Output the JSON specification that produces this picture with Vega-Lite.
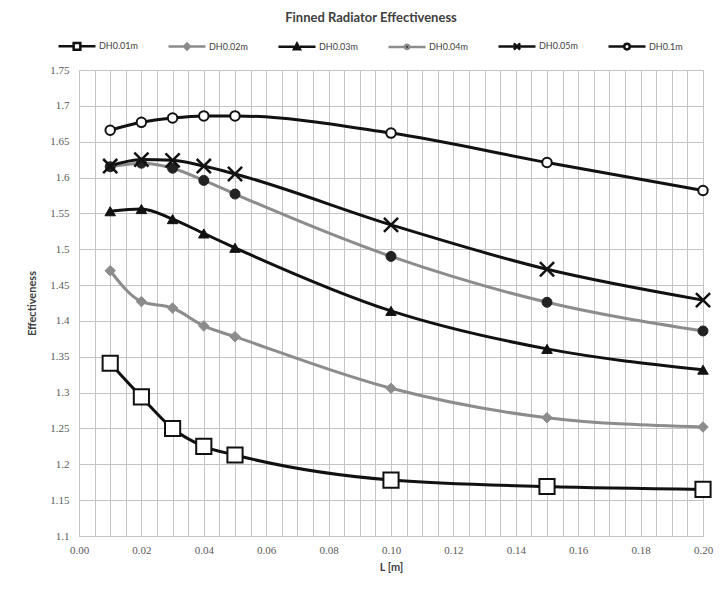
{
  "$schema": "https://vega.github.io/schema/vega-lite/v6.json",
  "autosize": "none",
  "width": 624,
  "height": 466,
  "padding": {"left": 79, "top": 70, "right": 19, "bottom": 54},
  "background": "white",
  "title": {"text": "Finned Radiator Effectiveness", "font": "Lato", "fontSize": 13, "fontWeight": "bold", "color": "#404040", "anchor": "middle", "dx": -20, "offset": 1},
  "config": {
    "view": {"stroke": "#c4c4c4", "strokeWidth": 1},
    "axis": {"labelFont": "Liberation Serif", "labelFontSize": 11, "labelColor": "#595959", "titleFont": "Lato", "titleFontWeight": "bold", "titleColor": "#404040", "titleFontSize": 11, "gridColor": "#c4c4c4", "gridOpacity": 1, "gridWidth": 1, "ticks": false, "domain": false},
    "legend": {"orient": "none", "legendX": -22, "legendY": -44, "direction": "horizontal", "columns": 6, "title": null, "symbolSize": 1369, "symbolStrokeWidth": 2.5, "symbolOpacity": 1, "labelFont": "Lato", "labelFontSize": 9, "labelColor": "#404040", "labelOffset": 2, "columnPadding": 25, "padding": 0}
  },
  "data": {"values": [
    {"series": "DH0.01m", "L": 0.01, "E": 1.341},
    {"series": "DH0.01m", "L": 0.02, "E": 1.294},
    {"series": "DH0.01m", "L": 0.03, "E": 1.250},
    {"series": "DH0.01m", "L": 0.04, "E": 1.225},
    {"series": "DH0.01m", "L": 0.05, "E": 1.213},
    {"series": "DH0.01m", "L": 0.10, "E": 1.178},
    {"series": "DH0.01m", "L": 0.15, "E": 1.169},
    {"series": "DH0.01m", "L": 0.20, "E": 1.165},
    {"series": "DH0.02m", "L": 0.01, "E": 1.470},
    {"series": "DH0.02m", "L": 0.02, "E": 1.427},
    {"series": "DH0.02m", "L": 0.03, "E": 1.418},
    {"series": "DH0.02m", "L": 0.04, "E": 1.393},
    {"series": "DH0.02m", "L": 0.05, "E": 1.378},
    {"series": "DH0.02m", "L": 0.10, "E": 1.306},
    {"series": "DH0.02m", "L": 0.15, "E": 1.265},
    {"series": "DH0.02m", "L": 0.20, "E": 1.252},
    {"series": "DH0.03m", "L": 0.01, "E": 1.553},
    {"series": "DH0.03m", "L": 0.02, "E": 1.556},
    {"series": "DH0.03m", "L": 0.03, "E": 1.542},
    {"series": "DH0.03m", "L": 0.04, "E": 1.522},
    {"series": "DH0.03m", "L": 0.05, "E": 1.502},
    {"series": "DH0.03m", "L": 0.10, "E": 1.414},
    {"series": "DH0.03m", "L": 0.15, "E": 1.361},
    {"series": "DH0.03m", "L": 0.20, "E": 1.332},
    {"series": "DH0.04m", "L": 0.01, "E": 1.615},
    {"series": "DH0.04m", "L": 0.02, "E": 1.620},
    {"series": "DH0.04m", "L": 0.03, "E": 1.613},
    {"series": "DH0.04m", "L": 0.04, "E": 1.596},
    {"series": "DH0.04m", "L": 0.05, "E": 1.577},
    {"series": "DH0.04m", "L": 0.10, "E": 1.490},
    {"series": "DH0.04m", "L": 0.15, "E": 1.426},
    {"series": "DH0.04m", "L": 0.20, "E": 1.386},
    {"series": "DH0.05m", "L": 0.01, "E": 1.616},
    {"series": "DH0.05m", "L": 0.02, "E": 1.625},
    {"series": "DH0.05m", "L": 0.03, "E": 1.624},
    {"series": "DH0.05m", "L": 0.04, "E": 1.616},
    {"series": "DH0.05m", "L": 0.05, "E": 1.605},
    {"series": "DH0.05m", "L": 0.10, "E": 1.534},
    {"series": "DH0.05m", "L": 0.15, "E": 1.472},
    {"series": "DH0.05m", "L": 0.20, "E": 1.429},
    {"series": "DH0.1m", "L": 0.01, "E": 1.666},
    {"series": "DH0.1m", "L": 0.02, "E": 1.677},
    {"series": "DH0.1m", "L": 0.03, "E": 1.683},
    {"series": "DH0.1m", "L": 0.04, "E": 1.686},
    {"series": "DH0.1m", "L": 0.05, "E": 1.686},
    {"series": "DH0.1m", "L": 0.10, "E": 1.662},
    {"series": "DH0.1m", "L": 0.15, "E": 1.621},
    {"series": "DH0.1m", "L": 0.20, "E": 1.582}
  ]},
  "encoding": {
    "x": {"field": "L", "type": "quantitative", "title": "L [m]",
      "scale": {"domain": [0, 0.2], "nice": false, "zero": false},
      "axis": {"values": [0,0.005,0.01,0.015,0.02,0.025,0.03,0.035,0.04,0.045,0.05,0.055,0.06,0.065,0.07,0.075,0.08,0.085,0.09,0.095,0.1,0.105,0.11,0.115,0.12,0.125,0.13,0.135,0.14,0.145,0.15,0.155,0.16,0.165,0.17,0.175,0.18,0.185,0.19,0.195,0.2],
        "labelExpr": "abs(datum.value/0.02 - round(datum.value/0.02)) < 0.001 ? format(datum.value, '.2f') : ''",
        "labelPadding": 8, "titlePadding": 6, "labelFlush": false}},
    "y": {"field": "E", "type": "quantitative", "title": "Effectiveness",
      "scale": {"domain": [1.1, 1.75], "nice": false, "zero": false},
      "axis": {"values": [1.1,1.15,1.2,1.25,1.3,1.35,1.4,1.45,1.5,1.55,1.6,1.65,1.7,1.75], "format": "~g", "labelPadding": 10, "titlePadding": 12, "titleFontSize": 11}}
  },
  "layer": [
    {"mark": {"type": "point", "filled": true, "opacity": 0, "strokeWidth": 2.5},
     "encoding": {
       "stroke": {"field": "series", "type": "nominal",
         "scale": {"domain": ["DH0.01m","DH0.02m","DH0.03m","DH0.04m","DH0.05m","DH0.1m"], "range": ["#111111","#8c8c8c","#111111","#8c8c8c","#111111","#111111"]}},
       "fill": {"field": "series", "type": "nominal",
         "scale": {"domain": ["DH0.01m","DH0.02m","DH0.03m","DH0.04m","DH0.05m","DH0.1m"], "range": ["white","#8c8c8c","#111111","#222222","#111111","white"]}},
       "shape": {"field": "series", "type": "nominal",
         "scale": {"domain": ["DH0.01m","DH0.02m","DH0.03m","DH0.04m","DH0.05m","DH0.1m"], "range": [
           "M-1,0H-0.18M-0.18,-0.18H0.18V0.18H-0.18ZM0.18,0H1",
           "M-1,0H-0.16M-0.16,0L0,-0.16L0.16,0L0,0.16ZM0.16,0H1",
           "M-1,0H-0.16M-0.16,0.13L0,-0.17L0.16,0.13ZM0.16,0H1",
           "M-1,0H-0.12M-0.12,0A0.12,0.12 0 1,0 0.12,0A0.12,0.12 0 1,0 -0.12,0ZM0.12,0H1",
           "M-1,0H1M-0.17,-0.17L0.17,0.17M-0.17,0.17L0.17,-0.17",
           "M-1,0H-0.15M-0.15,0A0.15,0.15 0 1,0 0.15,0A0.15,0.15 0 1,0 -0.15,0ZM0.15,0H1"]}}
     }},
    {"mark": {"type": "line", "interpolate": "monotone", "strokeWidth": 3},
     "encoding": {"stroke": {"field": "series", "type": "nominal",
       "scale": {"domain": ["DH0.01m","DH0.02m","DH0.03m","DH0.04m","DH0.05m","DH0.1m"], "range": ["#111111","#8c8c8c","#111111","#8c8c8c","#111111","#111111"]}}}},
    {"transform": [{"filter": "datum.series == 'DH0.01m'"}],
     "mark": {"type": "point", "shape": "square", "filled": true, "fill": "white", "stroke": "#111111", "strokeWidth": 2, "size": 230, "opacity": 1}},
    {"transform": [{"filter": "datum.series == 'DH0.02m'"}],
     "mark": {"type": "point", "shape": "diamond", "filled": true, "fill": "#8c8c8c", "stroke": "#8c8c8c", "strokeWidth": 1, "size": 110, "opacity": 1}},
    {"transform": [{"filter": "datum.series == 'DH0.03m'"}],
     "mark": {"type": "point", "shape": "triangle-up", "filled": true, "fill": "#111111", "stroke": "#111111", "strokeWidth": 1, "size": 110, "opacity": 1}},
    {"transform": [{"filter": "datum.series == 'DH0.04m'"}],
     "mark": {"type": "point", "shape": "circle", "filled": true, "fill": "#222222", "stroke": "#222222", "strokeWidth": 1, "size": 100, "opacity": 1}},
    {"transform": [{"filter": "datum.series == 'DH0.05m'"}],
     "mark": {"type": "point", "shape": "M-1,-1L1,1M-1,1L1,-1", "filled": false, "stroke": "#111111", "strokeWidth": 2.5, "size": 200, "opacity": 1}},
    {"transform": [{"filter": "datum.series == 'DH0.1m'"}],
     "mark": {"type": "point", "shape": "circle", "filled": true, "fill": "white", "stroke": "#111111", "strokeWidth": 2, "size": 90, "opacity": 1}}
  ]
}
